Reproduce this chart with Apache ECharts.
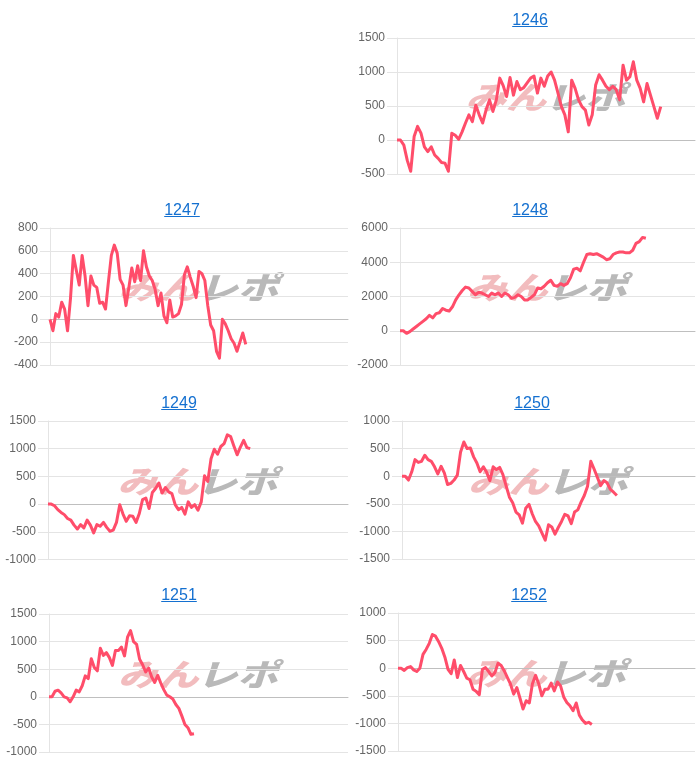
<!DOCTYPE html>
<html>
<head>
<meta charset="utf-8">
<script src="https://cdn.jsdelivr.net/npm/echarts@6/dist/echarts.min.js"></script>
<style>
  html, body { margin: 0; padding: 0; background: #fff; }
  #wrap { position: relative; width: 700px; height: 766px; }
  #chart { position: absolute; left: 0; top: 0; width: 700px; height: 766px; }
  .ttl { position: absolute; width: 200px; text-align: center; font: 16px/18px "Liberation Sans", Arial, Helvetica, sans-serif; z-index: 2; }
  .ttl a { color: #1470d0; text-decoration: underline; }
</style>
</head>
<body>
<div id="wrap"><div id="chart"></div></div>
<script>
// ---- data ----
const titles = ['1246', '1247', '1248', '1249', '1250', '1251', '1252'];

const s1246 = [0,0,-75,-300,-460,50,200,100,-100,-170,-100,-220,-270,-330,-340,-460,100,70,10,120,250,370,270,510,370,250,440,590,420,590,910,800,640,920,660,860,740,770,840,910,940,690,910,790,940,1000,880,690,490,370,120,880,760,590,490,440,220,370,810,960,880,790,740,790,740,590,1100,880,930,1150,880,760,560,830,660,490,320,490];
const s1247 = [0,-100,50,20,150,90,-100,180,560,430,300,560,380,120,380,300,280,140,150,90,330,560,650,580,350,300,120,280,450,330,470,340,600,460,380,340,260,120,230,30,-30,170,20,30,50,130,390,460,370,290,190,420,400,340,120,-50,-100,-280,-340,0,-40,-100,-170,-210,-280,-200,-120,-220];
const s1248 = [0,0,-150,-50,100,250,400,550,700,900,750,1000,1050,1300,1200,1150,1400,1800,2100,2350,2550,2500,2300,2100,2250,2200,2100,2000,2200,2100,2200,2000,2200,2100,1900,1950,2100,2000,1800,1800,1950,2100,2500,2450,2600,2800,2950,2650,2600,2750,2650,2750,3100,3600,3650,3500,4000,4450,4500,4450,4500,4400,4300,4150,4200,4450,4550,4600,4600,4550,4550,4700,5100,5200,5450,5400];
const s1249 = [0,0,-30,-100,-150,-190,-260,-290,-380,-450,-370,-430,-290,-380,-520,-370,-400,-330,-420,-490,-470,-330,-10,-180,-310,-210,-220,-330,-170,80,110,-80,210,280,380,200,300,220,190,-10,-100,-60,-180,40,-60,-10,-110,40,510,410,820,990,900,1040,1090,1250,1220,1050,890,1030,1150,1020,1000];
const s1250 = [0,0,-70,80,300,250,270,380,300,270,170,40,180,60,-150,-130,-70,20,440,620,500,510,350,240,80,170,70,-80,170,120,160,30,-180,-380,-480,-650,-700,-850,-580,-510,-680,-820,-900,-1030,-1160,-880,-920,-1050,-930,-820,-690,-720,-860,-650,-610,-470,-350,-180,270,130,-20,-170,-80,-120,-240,-290,-350];
const s1251 = [0,0,100,120,70,0,-20,-90,0,120,90,200,380,330,690,530,470,880,750,800,710,570,840,840,900,740,1080,1200,1000,950,680,580,450,520,360,260,390,250,130,30,0,-40,-140,-210,-350,-500,-560,-680,-670];
const s1252 = [0,0,-40,10,30,-30,-60,0,250,340,450,610,580,480,360,200,-20,-100,150,-170,50,-60,-180,-210,-380,-420,-480,-20,10,-60,-140,-80,90,50,-50,-170,-290,-470,-350,-540,-740,-590,-630,-280,-130,-280,-500,-380,-380,-270,-410,-250,-320,-520,-620,-680,-770,-630,-850,-940,-1000,-980,-1020];
const seriesData = [s1246, s1247, s1248, s1249, s1250, s1251, s1252];

// category slots on each x axis
const slotCounts = [88, 103, 91, 93, 91, 100, 96];
// y axis ranges / tick step
const yMins = [-500, -400, -2000, -1000, -1500, -1000, -1500];
const yMaxs = [1500, 800, 6000, 1500, 1000, 1500, 1000];
const ySteps = [500, 200, 2000, 500, 500, 500, 500];

// ---- layout (pixels) ----
const layout = [
  { left: 397, right: 695, top: 38,  h: 136, tx: 530, ty: 10.5 },
  { left: 50,  right: 348, top: 228, h: 137, tx: 182, ty: 200.5 },
  { left: 400, right: 695, top: 228, h: 137, tx: 530, ty: 200.5 },
  { left: 48,  right: 348, top: 421, h: 138.5, tx: 179, ty: 394 },
  { left: 402, right: 695, top: 421, h: 138, tx: 532, ty: 394 },
  { left: 49,  right: 348, top: 614, h: 138, tx: 179, ty: 586 },
  { left: 398, right: 695, top: 613, h: 138, tx: 529, ty: 586 }
];

const FONT = '"Liberation Sans", Arial, Helvetica, sans-serif';
const wrap = document.getElementById('wrap');
titles.forEach((t, i) => {
  const d = document.createElement('div');
  d.className = 'ttl';
  d.style.left = (layout[i].tx - 100) + 'px';
  d.style.top = layout[i].ty + 'px';
  const a = document.createElement('a');
  a.href = '#';
  a.textContent = t;
  d.appendChild(a);
  wrap.appendChild(d);
});

const grids = [], xAxes = [], yAxes = [], series = [], graphics = [];
seriesData.forEach((vals, i) => {
  const L = layout[i];
  grids.push({ left: L.left, width: L.right - L.left, top: L.top, height: L.h, containLabel: false });
  const cats = [];
  for (let k = 1; k <= slotCounts[i]; k++) cats.push(String(k));
  xAxes.push({
    type: 'category', gridIndex: i, data: cats, boundaryGap: false,
    axisLabel: { show: false }, axisTick: { show: false }, splitLine: { show: false },
    axisLine: { show: true, onZero: true, lineStyle: { color: '#bfbfbf', width: 1 } }
  });
  yAxes.push({
    type: 'value', gridIndex: i, min: yMins[i], max: yMaxs[i], interval: ySteps[i],
    axisLine: { show: true, lineStyle: { color: '#e4e4e4' } },
    axisTick: { show: true, length: 10, lineStyle: { color: '#e4e4e4' } },
    splitLine: { show: true, lineStyle: { color: '#e4e4e4', width: 1 } },
    axisLabel: { color: '#666', fontSize: 12, fontFamily: FONT, margin: 12, formatter: v => String(v) }
  });
  series.push({
    type: 'line', xAxisIndex: i, yAxisIndex: i, data: vals,
    showSymbol: false, symbol: 'none', smooth: false, z: 5,
    lineStyle: { color: '#ff4d6a', width: 3, join: 'round' }
  });
  const cx = (L.left + L.right) / 2, cy = L.top + L.h / 2 - 9;
  graphics.push({
    type: 'group', x: cx, y: cy, scaleX: 1.3, z: 1, silent: true,
    children: [
      { type: 'text', x: 0, y: 0, style: { text: 'みん', fill: 'rgba(220,80,85,0.38)', font: 'italic 900 31px "Noto Sans CJK JP", sans-serif', align: 'right', verticalAlign: 'middle' } },
      { type: 'text', x: -1, y: 0, style: { text: 'レポ', fill: 'rgba(100,100,100,0.45)', font: 'italic 900 31px "Noto Sans CJK JP", sans-serif', align: 'left', verticalAlign: 'middle' } }
    ]
  });
});

const chart = echarts.init(document.getElementById('chart'), null, { renderer: 'canvas' });
chart.setOption({
  animation: false,
  backgroundColor: '#fff',
  textStyle: { fontFamily: FONT },
  grid: grids, xAxis: xAxes, yAxis: yAxes, series: series,
  graphic: graphics
});
</script>
</body>
</html>
